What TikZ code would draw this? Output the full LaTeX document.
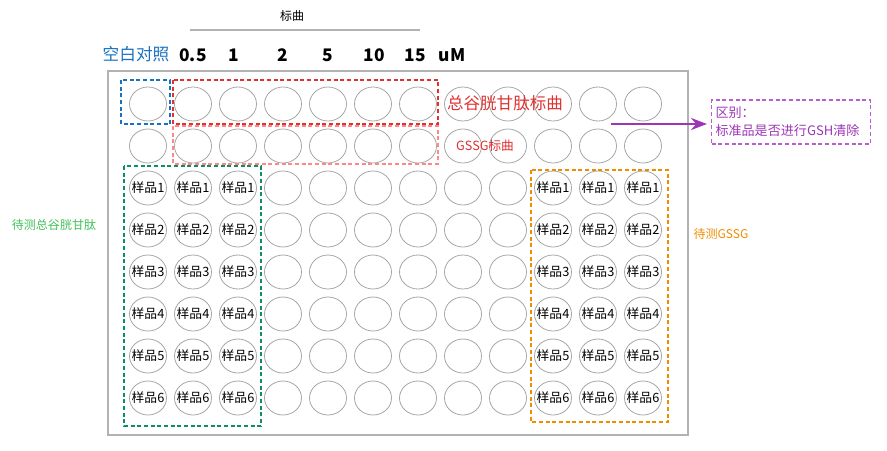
\documentclass[tikz,border=0pt]{standalone}
\usepackage{fontspec}
\setmainfont{Noto Sans CJK SC}
\usetikzlibrary{arrows.meta, positioning, shapes.geometric}
\definecolor{blankblue}{HTML}{1971C2}
\definecolor{stdred}{HTML}{E03131}
\definecolor{stdredlight}{HTML}{FF8787}
\definecolor{gshgreen}{HTML}{0C8F61}
\definecolor{gshtext}{HTML}{40C057}
\definecolor{gssgorange}{HTML}{F08C00}
\definecolor{notepurple}{HTML}{9C36B5}
\definecolor{noteframe}{HTML}{B75FD0}

\begin{document}
\begin{tikzpicture}[x=0.75pt, y=-0.75pt, >=Stealth,
    well/.style={draw=gray!70, line width=0.6pt, ellipse, minimum width=27.75pt, minimum height=25.5pt, inner sep=0pt},
    sample/.style={font=\fontsize{9.6}{11}\selectfont, inner sep=0pt},
    tick/.style={font=\fontsize{13}{15}\selectfont\bfseries, inner sep=0pt},
    groupbox/.style={line width=0.8pt, dash pattern=on 3pt off 2pt}]
    \useasboundingbox (0,0) rectangle (887,450);

    % title over the standard curve
    \node[font=\fontsize{9}{11}\selectfont] (stdtitle) at (292,16) {标曲};
    \draw[gray!60, line width=1pt] (190,30) -- (420,30);

    \node[font=\fontsize{12.5}{14}\selectfont, text=blankblue] (blank) at (136,54) {空白对照};
    \foreach \lbl/\x [count=\i] in {0.5/193, 1/234, 2/283, 5/328, 10/374, 15/415, uM/452}
        \node[tick] (conc\i) at (\x,55) {\lbl};

    % plate
    \draw[gray!60, line width=1pt] (108,71) rectangle (688,435);
    \foreach \r in {1,...,8}
        \foreach \c in {1,...,12}
            \node[well] (w\r-\c) at ({148+45*(\c-1)}, {104+42*(\r-1)}) {};

    \foreach \s [evaluate=\s as \r using int(\s+2)] in {1,...,6}
        \foreach \c in {1,2,3,10,11,12}
            \node[sample] (s\s-\c) at (w\r-\c) {样品\s};

    % groups
    \draw[groupbox, blankblue] (121,80) rectangle (170,124);
    \draw[groupbox, stdred] (173,80) rectangle (438,124);
    \draw[groupbox, stdredlight] (173,126) rectangle (438,164);
    \draw[groupbox, gshgreen, line width=1.3pt] (124,166) rectangle (261,426);
    \draw[groupbox, gssgorange] (531,170) rectangle (668,422);

    \node[font=\fontsize{12.4}{14}\selectfont, text=stdred] (gshstd) at (505,103) {总谷胱甘肽标曲};
    \node[font=\fontsize{9.5}{11}\selectfont, text=stdred] (gssgstd) at (485,146) {GSSG标曲};
    \node[font=\fontsize{9}{11}\selectfont, text=gshtext] (gshtest) at (54,225) {待测总谷胱甘肽};
    \node[font=\fontsize{9}{11}\selectfont, text=gssgorange] (gssgtest) at (721,234) {待测GSSG};

    % note
    \node[draw=noteframe, line width=0.8pt, dash pattern=on 3pt off 2pt, text=notepurple,
          font=\fontsize{9.8}{13.5}\selectfont, align=left, text width=113pt, inner sep=3pt,
          minimum height=33pt, anchor=west] (diffnote) at (711,122)
          {区别：\\标准品是否进行GSH清除};
    \coordinate (diffstart) at (611,124);
    \draw[->, notepurple, line width=2pt, shorten >=3pt] (diffstart) -- (diffstart -| diffnote.west);
\end{tikzpicture}
\end{document}
